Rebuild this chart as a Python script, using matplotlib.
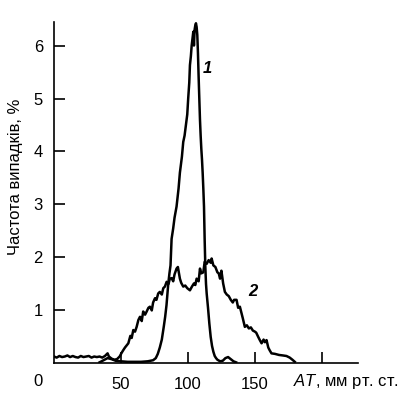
import numpy as np
import matplotlib
matplotlib.use("Agg")
import matplotlib.pyplot as plt

# curve 1: narrow peak
x1 = [34, 37, 40, 43, 46, 50, 55, 60, 65, 70, 74, 76, 77.5, 79, 80.5, 82, 83, 84, 85.3, 86.2, 87, 87.8,
      89, 90, 91.5, 93, 94, 95.5, 96.5, 97.5, 98.5, 99.5, 100.2, 101, 101.5, 102.2, 102.8, 103.5, 104,
      104.5, 105, 105.5, 106, 106.5, 107, 107.5, 108, 108.5, 109, 109.5, 110, 110.5, 111, 111.5, 112,
      112.5, 113, 113.5, 114, 115, 116, 117, 118, 119, 120, 121, 122, 124, 126, 128, 130, 132, 134, 136]
y1 = [0.02, 0.06, 0.1, 0.08, 0.05, 0.04, 0.03, 0.03, 0.03, 0.04, 0.06, 0.1, 0.18, 0.3, 0.45, 0.7, 0.88,
      1.1, 1.5, 1.7, 1.85, 2.35, 2.55, 2.75, 2.96, 3.3, 3.6, 3.9, 4.18, 4.3, 4.5, 4.7, 5.0, 5.3, 5.63,
      5.8, 6.0, 6.15, 6.26, 6.0, 6.3, 6.38, 6.42, 6.35, 6.2, 5.85, 5.4, 5.0, 4.6, 4.3, 4.05, 3.85, 3.6,
      3.3, 2.96, 2.33, 1.82, 1.5, 1.32, 1.05, 0.75, 0.5, 0.33, 0.22, 0.14, 0.1, 0.07, 0.04, 0.05, 0.1,
      0.12, 0.08, 0.04, 0.02]

# curve 2: broad distribution
x2 = [0, 2, 4, 6, 8, 10, 12, 14, 16, 18,
      20, 22, 24, 26, 28, 30, 32, 34, 36, 38,
      40, 41, 43, 45, 47, 49, 50.5, 51.7, 53, 55.5,
      57, 58, 59.2, 60.5, 61.7, 63, 64.2, 65.5, 66.6, 68,
      69.2, 70.5, 71.6, 73, 74, 75.4, 76.5, 77.8, 79, 80.5,
      81.6, 82.8, 84.1, 85.5, 86.5, 87.8, 89, 90, 91.5, 92.5,
      94, 95, 96.5, 98, 99.5, 101.5, 103, 104.5, 105.5, 106.5,
      108, 109, 110, 111.5, 112.5, 114, 115.5, 117, 117.7, 119,
      120.5, 122, 123, 124, 125, 126.3, 127.6, 129, 130.5, 132,
      133.5, 134.5, 136.3, 137.5, 138.8, 140, 141, 142.5, 144, 145.5,
      147, 148.5, 150, 151, 152.5, 153.7, 155, 156.5, 157.5, 158.7,
      160, 161, 162.4, 165, 168, 171, 173.6, 176, 178, 179.8]
y2 = [0.13, 0.11, 0.14, 0.12, 0.13, 0.15, 0.12, 0.14, 0.12, 0.11,
      0.14, 0.12, 0.13, 0.14, 0.11, 0.13, 0.12, 0.13, 0.11, 0.14,
      0.19, 0.13, 0.09, 0.07, 0.08, 0.13, 0.2, 0.25, 0.3, 0.38,
      0.52, 0.48, 0.63, 0.6, 0.69, 0.82, 0.88, 0.8, 0.98, 0.92,
      0.98, 1.05, 1.07, 1.0, 1.15, 1.23, 1.2, 1.32, 1.35, 1.3,
      1.42, 1.45, 1.54, 1.5, 1.6, 1.61, 1.55, 1.68, 1.79, 1.82,
      1.6, 1.52, 1.45, 1.47, 1.42, 1.38, 1.45, 1.51, 1.48, 1.6,
      1.55, 1.79, 1.7, 1.72, 1.92, 1.88, 1.95, 1.9, 1.98, 1.85,
      1.82, 1.72, 1.7, 1.6, 1.75, 1.51, 1.35, 1.3, 1.27, 1.2,
      1.15, 1.2, 1.2, 1.05, 1.07, 0.95, 0.85, 0.69, 0.72, 0.66,
      0.68, 0.62, 0.6, 0.58, 0.5, 0.44, 0.38, 0.45, 0.4, 0.44,
      0.3, 0.25, 0.19, 0.18, 0.16, 0.15, 0.14, 0.11, 0.07, 0.03]

yticks = [1, 2, 3, 4, 5, 6]
xticks = [50, 100, 150, 200]
xticklabels = ["50", "100", "150", ""]

plt.rcParams["font.family"] = ["Liberation Sans", "DejaVu Sans"]
plt.rcParams["mathtext.fontset"] = "custom"
plt.rcParams["mathtext.it"] = "Liberation Sans:italic"
plt.rcParams["mathtext.rm"] = "Liberation Sans"

fig = plt.figure(figsize=(4.13, 3.98), dpi=100)
ax = fig.add_axes([0.1308, 0.0869, 0.736, 0.8586])

ax.plot(x1, y1, color="black", lw=1.8, solid_joinstyle="round")
ax.plot(x2, y2, color="black", lw=1.8, solid_joinstyle="round")

ax.set_xlim(0, 227)
ax.set_ylim(0, 6.45)
ax.spines["top"].set_visible(False)
ax.spines["right"].set_visible(False)
ax.spines["left"].set_linewidth(1.2)
ax.spines["bottom"].set_linewidth(1.2)

ax.set_yticks(yticks)
ax.set_xticks(xticks)
ax.set_xticklabels(xticklabels)
ax.tick_params(direction="in", length=8, width=1.2, labelsize=12)
ax.tick_params(axis="y", pad=8)
ax.tick_params(axis="x", pad=10)

ax.text(-12, -0.052, "0", transform=ax.get_xaxis_transform(), ha="center", va="center", fontsize=12)
ax.text(0.785, -0.052, r"$\it{AT}$, мм рт. ст.", transform=ax.transAxes, ha="left", va="center",
        fontsize=12)

ax.set_ylabel("Частота випадків, %", fontsize=12, va="center")
ax.yaxis.set_label_coords(-0.128, 0.545)

ax.text(114.2, 5.57, "1", style="italic", fontweight="bold", fontsize=12, ha="center", va="center")
ax.text(148.5, 1.35, "2", style="italic", fontweight="bold", fontsize=12, ha="center", va="center")

fig.savefig("out.png", dpi=100)
